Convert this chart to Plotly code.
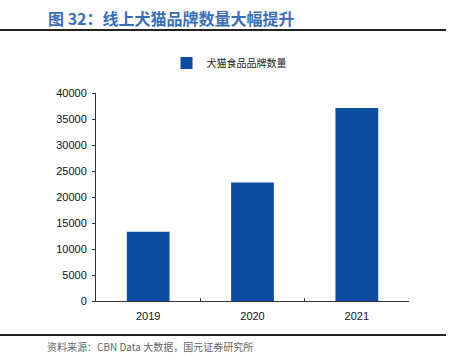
import plotly.graph_objects as go

categories = ["2019", "2020", "2021"]
values = [13300, 22800, 37100]
series_name = "犬猫食品品牌数量"
y_ticks = [0, 5000, 10000, 15000, 20000, 25000, 30000, 35000, 40000]
title_text = "图 32：线上犬猫品牌数量大幅提升"
source_text = "资料来源：CBN Data 大数据，国元证券研究所"

W, H = 456, 357
L, R, T, B = 96, 409, 93, 301

def px_x(px):
    return (px - L) / (R - L)

def px_y(py):
    return (B - py) / (B - T)

fig = go.Figure()
fig.add_trace(go.Bar(
    x=categories, y=values, name=series_name,
    marker=dict(color="#0C4DA2", line=dict(width=0)),
    width=0.41,
))

cjk = "Noto Sans CJK SC, Liberation Sans, sans-serif"
num = "Liberation Sans, Arial, sans-serif"

fig.update_layout(
    width=W, height=H,
    margin=dict(l=L, r=W - R, t=T, b=H - B, pad=0, autoexpand=False),
    paper_bgcolor="white", plot_bgcolor="white",
    showlegend=True,
    legend=dict(
        orientation="h", xref="container", yref="container",
        x=229 / W, xanchor="center", y=1 - 63 / H, yanchor="middle",
        font=dict(family=cjk, size=10, color="#222"),
        itemwidth=30, bgcolor="rgba(0,0,0,0)",
    ),
    xaxis=dict(
        type="category", range=[-0.5, 2.5],
        showline=True, linecolor="#333", linewidth=1,
        ticks="inside", tickson="boundaries", ticklen=3, tickcolor="#333",
        tickfont=dict(family=num, size=11, color="#111"),
        ticklabelstandoff=5,
        showgrid=False, zeroline=False,
    ),
    yaxis=dict(
        range=[0, 40000], tickvals=y_ticks, tickformat="d",
        showline=True, linecolor="#333", linewidth=1,
        ticks="outside", ticklen=3, tickcolor="#333",
        tickfont=dict(family=num, size=11, color="#111"),
        ticklabelstandoff=3,
        showgrid=False, zeroline=False,
    ),
    bargap=0.59,
)

fig.add_annotation(
    text="<b>" + title_text + "</b>", xref="paper", yref="paper",
    x=px_x(46), y=px_y(18), xanchor="left", yanchor="middle",
    showarrow=False, font=dict(family=cjk, size=16, color="#3A6DB5"),
)
fig.add_annotation(
    text=source_text, xref="paper", yref="paper",
    x=px_x(45), y=px_y(346), xanchor="left", yanchor="middle",
    showarrow=False, font=dict(family=cjk, size=10, color="#666"),
)
fig.add_shape(type="line", xref="paper", yref="paper",
              x0=px_x(0), x1=px_x(446), y0=px_y(30), y1=px_y(30),
              line=dict(color="#222", width=2))
fig.add_shape(type="line", xref="paper", yref="paper",
              x0=px_x(0), x1=px_x(446), y0=px_y(335), y1=px_y(335),
              line=dict(color="#222", width=2))

fig.write_html("out.html",
               config={"displayModeBar": False},
               post_script="document.body.style.margin='0';document.body.style.overflow='hidden';")
